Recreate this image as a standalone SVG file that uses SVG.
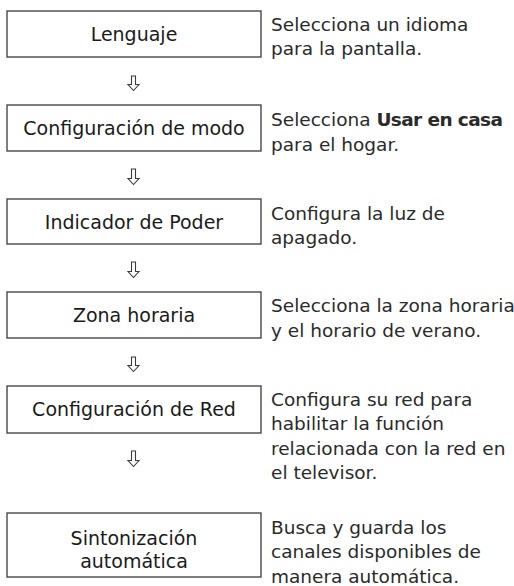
<svg xmlns="http://www.w3.org/2000/svg" width="514" height="586" viewBox="0 0 514 586">
<style>
.box{fill:#fff;stroke:#3a3a3a;stroke-width:1.3}
.lbl{font-family:"DejaVu Sans",sans-serif;font-size:19px;fill:#1a1a1a;text-anchor:middle}
.desc{font-family:"DejaVu Sans",sans-serif;font-size:18.5px;fill:#2a2a2a}
.arr{fill:#fff;stroke:#3a3a3a;stroke-width:1.1;stroke-linejoin:miter}
</style>
<rect width="514" height="586" fill="#fff"/>
<g id="connectors">
<path class="arr" d="M131.5,76 V84.5 H128 L133.5,90.5 L139,84.5 H135.5 V76 Z"/>
<path class="arr" d="M131.5,169 V178.5 H128 L133.5,184.5 L139,178.5 H135.5 V169 Z"/>
<path class="arr" d="M131.5,262 V271.5 H128 L133.5,277.5 L139,271.5 H135.5 V262 Z"/>
<path class="arr" d="M131.5,357 V365.5 H128 L133.5,371.5 L139,365.5 H135.5 V357 Z"/>
<path class="arr" d="M131.5,451 V460.5 H128 L133.5,466.5 L139,460.5 H135.5 V451 Z"/>
</g>
<g id="n1">
<rect class="box" x="7" y="11" width="254" height="46"/>
<text class="lbl" x="134" y="41">Lenguaje</text>
<text class="desc" x="271" y="31">Selecciona un idioma</text>
<text class="desc" x="271" y="55">para la pantalla.</text>
</g>
<g id="n2">
<rect class="box" x="7" y="105" width="254" height="46"/>
<text class="lbl" x="134" y="135">Configuración de modo</text>
<text class="desc" x="271" y="126">Selecciona <tspan font-weight="bold" letter-spacing="-0.6">Usar en casa</tspan></text>
<text class="desc" x="271" y="151">para el hogar.</text>
</g>
<g id="n3">
<rect class="box" x="7" y="199" width="254" height="45"/>
<text class="lbl" x="134" y="229">Indicador de Poder</text>
<text class="desc" x="271" y="220">Configura la luz de</text>
<text class="desc" x="271" y="244">apagado.</text>
</g>
<g id="n4">
<rect class="box" x="7" y="292" width="254" height="46"/>
<text class="lbl" x="134" y="322">Zona horaria</text>
<text class="desc" x="271" y="312">Selecciona la zona horaria</text>
<text class="desc" x="271" y="337">y el horario de verano.</text>
</g>
<g id="n5">
<rect class="box" x="7" y="386" width="254" height="47"/>
<text class="lbl" x="134" y="416">Configuración de Red</text>
<text class="desc" x="271" y="406">Configura su red para</text>
<text class="desc" x="271" y="430">habilitar la función</text>
<text class="desc" x="271" y="455">relacionada con la red en</text>
<text class="desc" x="271" y="479">el televisor.</text>
</g>
<g id="n6">
<rect class="box" x="7" y="513" width="254" height="64"/>
<text class="lbl" x="134" y="545">Sintonización</text>
<text class="lbl" x="134" y="568">automática</text>
<text class="desc" x="271" y="534">Busca y guarda los</text>
<text class="desc" x="271" y="558">canales disponibles de</text>
<text class="desc" x="271" y="583">manera automática.</text>
</g>
</svg>
